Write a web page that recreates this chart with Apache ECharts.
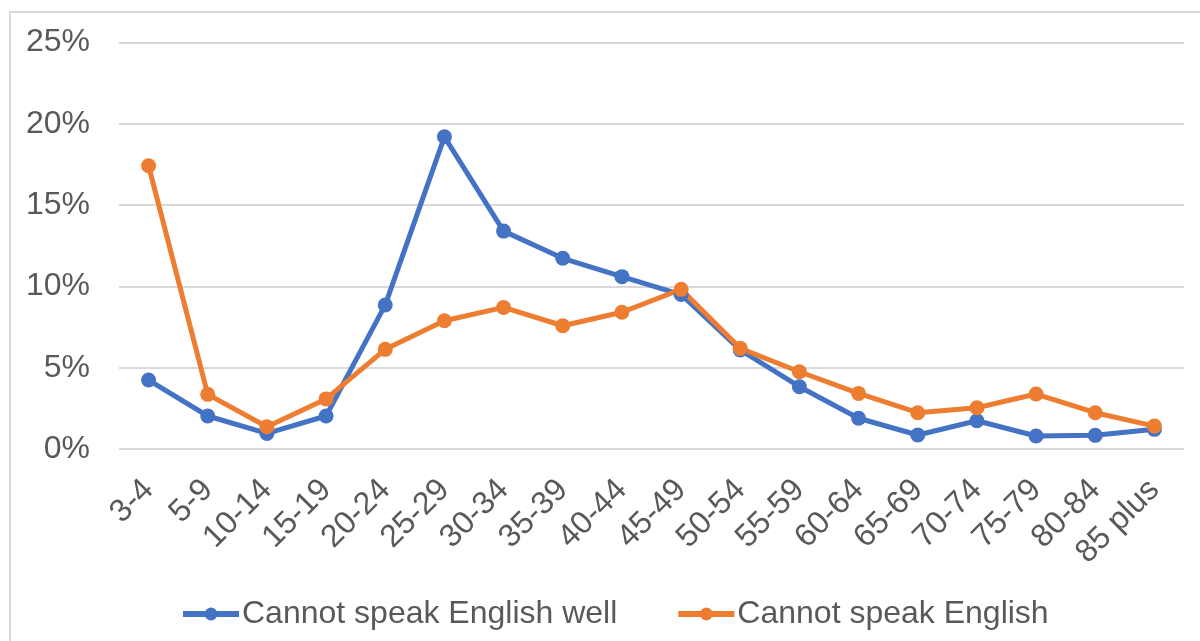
<!DOCTYPE html>
<html>
<head>
<meta charset="utf-8">
<title>Cannot speak English by age</title>
<script src="https://cdn.jsdelivr.net/npm/echarts@6/dist/echarts.min.js"></script>
<style>
  html, body { margin: 0; padding: 0; background: #fff; }
  #frame { position: absolute; left: 9px; top: 11px; width: 1200px; height: 700px;
           border-top: 2px solid #d9d9d9; border-left: 2px solid #d9d9d9; }
  #main { position: absolute; left: 0; top: 0; width: 1200px; height: 641px; }
</style>
</head>
<body>
<div id="frame"></div>
<div id="main"></div>
<script>
// 年龄段
var ageGroups = ['3-4', '5-9', '10-14', '15-19', '20-24', '25-29', '30-34', '35-39', '40-44',
  '45-49', '50-54', '55-59', '60-64', '65-69', '70-74', '75-79', '80-84', '85 plus'];

// 英语说得不好 (%)
var notWell = [4.24, 2.03, 0.96, 2.03, 8.86, 19.2, 13.4, 11.73, 10.6,
  9.5, 6.09, 3.83, 1.89, 0.86, 1.74, 0.8, 0.84, 1.21];

// 不会说英语 (%)
var notAtAll = [17.42, 3.36, 1.37, 3.08, 6.13, 7.89, 8.71, 7.58, 8.41,
  9.82, 6.19, 4.75, 3.42, 2.23, 2.54, 3.38, 2.23, 1.41];

var yTicks = [0, 5, 10, 15, 20, 25];

var chart = echarts.init(document.getElementById('main'), null, { renderer: 'canvas' });

var font = 'Liberation Sans, Arial, sans-serif';
var textColor = '#595959';

function lineSeries(name, data, color) {
  return {
    name: name,
    type: 'line',
    data: data,
    symbol: 'circle',
    symbolSize: 15,
    lineStyle: { width: 5, color: color },
    itemStyle: { color: color },
    animation: false
  };
}

var option = {
  backgroundColor: 'transparent',
  textStyle: { fontFamily: font },
  grid: { left: 119, right: 16, top: 42.5, bottom: 192, containLabel: false },
  legend: {
    left: 175,
    top: 593,
    itemWidth: 56,
    itemHeight: 16,
    itemGap: 58,
    lineStyle: { width: 6 },
    textStyle: { fontSize: 32, color: textColor, fontFamily: font, padding: [0, 0, 0, -2] },
    data: ['Cannot speak English well', 'Cannot speak English']
  },
  xAxis: {
    type: 'category',
    data: ageGroups,
    boundaryGap: true,
    axisLine: { show: false },
    axisTick: { show: false },
    axisLabel: {
      rotate: 45,
      fontSize: 32,
      color: textColor,
      margin: 36,
      interval: 0
    }
  },
  yAxis: {
    type: 'value',
    min: yTicks[0],
    max: yTicks[yTicks.length - 1],
    interval: 5,
    axisLine: { show: false },
    axisTick: { show: false },
    splitLine: { lineStyle: { color: '#d9d9d9', width: 2 } },
    axisLabel: {
      fontSize: 32,
      color: textColor,
      margin: 29,
      formatter: '{value}%'
    }
  },
  series: [
    lineSeries('Cannot speak English well', notWell, '#4472c4'),
    lineSeries('Cannot speak English', notAtAll, '#ed7d31')
  ]
};

chart.setOption(option);
</script>
</body>
</html>
